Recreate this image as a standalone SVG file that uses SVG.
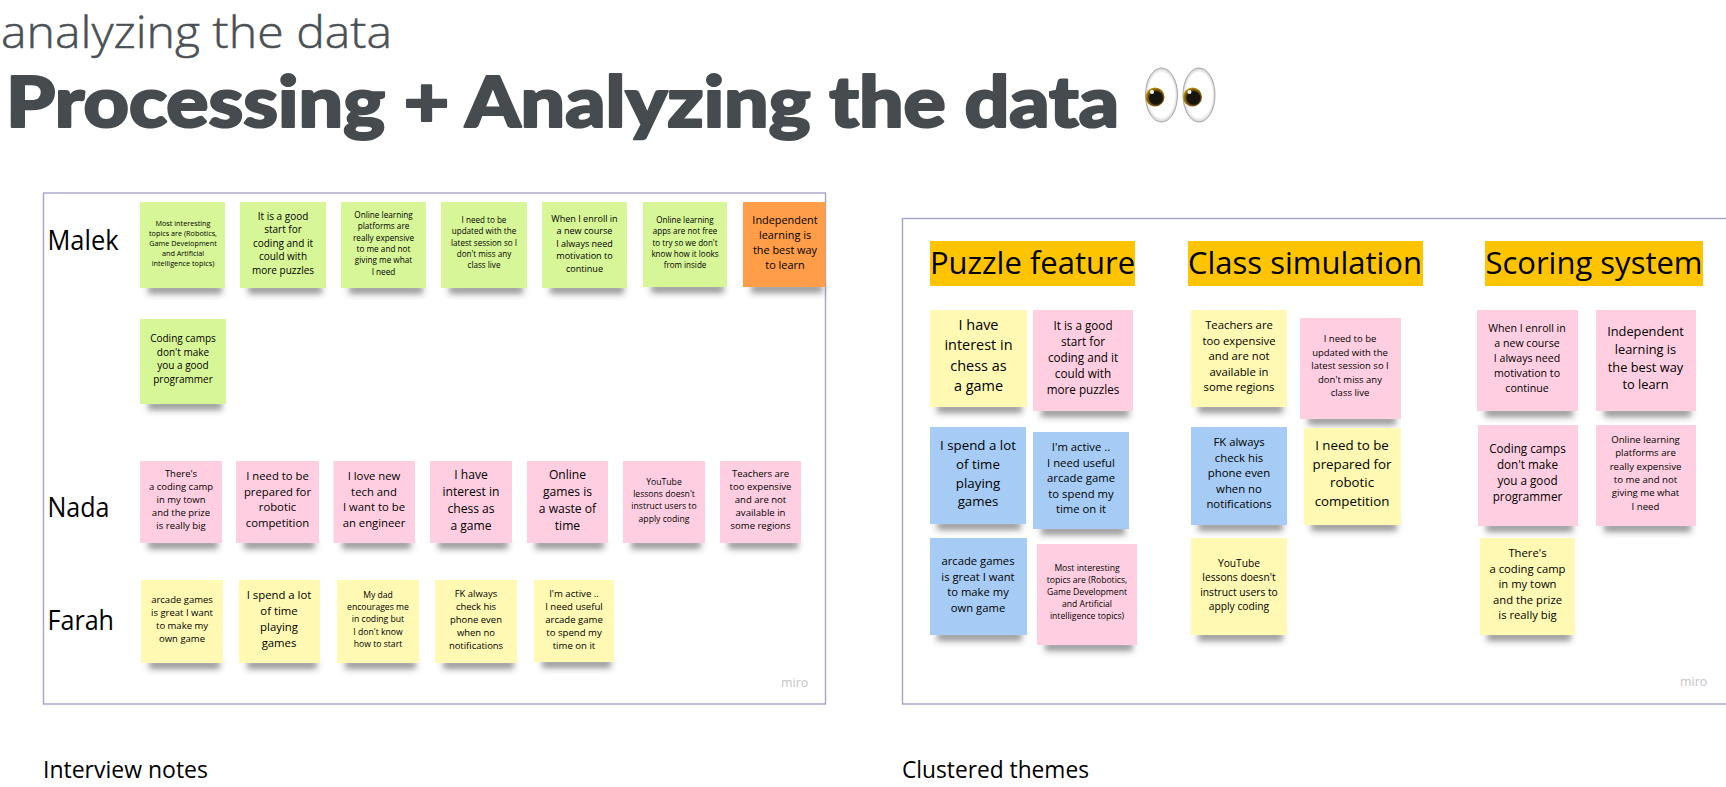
<svg xmlns="http://www.w3.org/2000/svg" width="1726" height="787" viewBox="0 0 1726 787">
<style>
text{font-family:"Open Sans","Liberation Sans",sans-serif;fill:#000}
.n text,text.n{text-anchor:middle}
.g{fill:#d7f697}.o{fill:#ff9d48}.p{fill:#ffcfe1}.y{fill:#fff9b3}.b{fill:#a6ccf5}
.sh{fill:#333;fill-opacity:.52;filter:url(#blur)}
.frame{fill:#fff;stroke:#a3a3c9;stroke-width:1.4}
.hd{fill:#ffc400}
.ht{font-size:31px}
.name{font-size:28px}
.cap{font-size:23px}
.miro{font-size:12.5px;fill:#c4c4c4!important}
.t1{font-size:45px;font-weight:300;fill:#4a5054!important;stroke:#4a5054;stroke-width:.5}
.t2{font-family:"Lato","Noto Sans",sans-serif!important;font-size:71px;font-weight:900;fill:#454b4e!important;stroke:#454b4e;stroke-width:2.2;stroke-linejoin:round}
</style>
<defs>
<filter id="blur" x="-20%" y="-150%" width="140%" height="400%"><feGaussianBlur stdDeviation="3.2"/></filter>
<radialGradient id="eye" cx=".5" cy=".5" r=".55"><stop offset=".75" stop-color="#fff"/><stop offset="1" stop-color="#b5b5b5"/></radialGradient>
<radialGradient id="iris" cx=".55" cy=".55" r=".55"><stop offset=".6" stop-color="#181410"/><stop offset=".72" stop-color="#6b4a08"/><stop offset="1" stop-color="#c2960f"/></radialGradient>
</defs>
<rect width="1726" height="787" fill="#fff"/>

<g id="titles">
<text class="t1" x="1" y="48" textLength="391" lengthAdjust="spacingAndGlyphs">analyzing the data</text>
<text class="t2" x="6" y="127" textLength="1113" lengthAdjust="spacingAndGlyphs">Processing + Analyzing the data</text>
</g>
<g id="eyes-emoji">
<ellipse cx="1161.5" cy="95" rx="16" ry="27" fill="url(#eye)" stroke="#a8a8a8"/>
<ellipse cx="1199" cy="95" rx="16" ry="27" fill="url(#eye)" stroke="#a8a8a8"/>
<circle cx="1155" cy="97" r="9.5" fill="url(#iris)"/><circle cx="1192.5" cy="97" r="9.5" fill="url(#iris)"/>
<circle cx="1152" cy="92" r="2" fill="#fff"/><circle cx="1189.5" cy="92" r="2" fill="#fff"/>
</g>

<g id="frame-interview"><rect class="frame" x="43.5" y="193" width="782" height="511"/><text class="miro" x="781" y="687">miro</text></g>
<g id="frame-clusters"><rect class="frame" x="902.5" y="218.5" width="830" height="485.5"/><text class="miro" x="1680" y="686">miro</text></g>

<g id="person-labels">
<text class="name" x="47.5" y="249.5" textLength="71" lengthAdjust="spacingAndGlyphs">Malek</text>
<text class="name" x="47.5" y="517" textLength="62" lengthAdjust="spacingAndGlyphs">Nada</text>
<text class="name" x="47.5" y="629.5" textLength="66.5" lengthAdjust="spacingAndGlyphs">Farah</text>
</g>

<g id="connectors"></g>

<g class="n" id="m1"><rect class="sh" x="148" y="285" width="74" height="9"/><rect class="g" x="140" y="202" width="85" height="86"/><text x="183" y="226" font-size="7.25"><tspan x="183">Most interesting</tspan><tspan x="183" dy="10">topics are (Robotics,</tspan><tspan x="183" dy="10">Game Development</tspan><tspan x="183" dy="10">and Artificial</tspan><tspan x="183" dy="10">intelligence topics)</tspan></text></g>
<g class="n" id="m2"><rect class="sh" x="248" y="285" width="74" height="9"/><rect class="g" x="240" y="202" width="86" height="86"/><text x="283" y="219.5" font-size="10"><tspan x="283">It is a good</tspan><tspan x="283" dy="13.6">start for</tspan><tspan x="283" dy="13.6">coding and it</tspan><tspan x="283" dy="13.6">could with</tspan><tspan x="283" dy="13.6">more puzzles</tspan></text></g>
<g class="n" id="m3"><rect class="sh" x="349" y="285" width="74" height="9"/><rect class="g" x="341" y="202" width="85" height="86"/><text x="383.5" y="218" font-size="8.2"><tspan x="383.5">Online learning</tspan><tspan x="383.5" dy="11.3">platforms are</tspan><tspan x="383.5" dy="11.3">really expensive</tspan><tspan x="383.5" dy="11.3">to me and not</tspan><tspan x="383.5" dy="11.3">giving me what</tspan><tspan x="383.5" dy="11.3">I need</tspan></text></g>
<g class="n" id="m4"><rect class="sh" x="449" y="285" width="74" height="9"/><rect class="g" x="441" y="202" width="86" height="86"/><text x="484" y="223" font-size="8.1"><tspan x="484">I need to be</tspan><tspan x="484" dy="11.3">updated with the</tspan><tspan x="484" dy="11.3">latest session so I</tspan><tspan x="484" dy="11.3">don't miss any</tspan><tspan x="484" dy="11.3">class live</tspan></text></g>
<g class="n" id="m5"><rect class="sh" x="550" y="285" width="74" height="9"/><rect class="g" x="542" y="202" width="85" height="86"/><text x="584.5" y="221.5" font-size="9.05"><tspan x="584.5">When I enroll in</tspan><tspan x="584.5" dy="12.6">a new course</tspan><tspan x="584.5" dy="12.6">I always need</tspan><tspan x="584.5" dy="12.6">motivation to</tspan><tspan x="584.5" dy="12.6">continue</tspan></text></g>
<g class="n" id="m6"><rect class="sh" x="651" y="284" width="73" height="9"/><rect class="g" x="643" y="202" width="84" height="85"/><text x="685" y="223" font-size="8.05"><tspan x="685">Online learning</tspan><tspan x="685" dy="11.3">apps are not free</tspan><tspan x="685" dy="11.3">to try so we don't</tspan><tspan x="685" dy="11.3">know how it looks</tspan><tspan x="685" dy="11.3">from inside</tspan></text></g>
<g class="n" id="m7"><rect class="sh" x="751" y="284" width="72" height="9"/><rect class="o" x="743" y="202" width="82.5" height="85"/><text x="785" y="224" font-size="10.9"><tspan x="785">Independent</tspan><tspan x="785" dy="15">learning is</tspan><tspan x="785" dy="15">the best way</tspan><tspan x="785" dy="15">to learn</tspan></text></g>
<g class="n" id="m8"><rect class="sh" x="148" y="401" width="74" height="9"/><rect class="g" x="140" y="319" width="86" height="85"/><text x="183" y="342" font-size="10"><tspan x="183">Coding camps</tspan><tspan x="183" dy="13.7">don't make</tspan><tspan x="183" dy="13.7">you a good</tspan><tspan x="183" dy="13.7">programmer</tspan></text></g>

<g class="n" id="n1"><rect class="sh" x="148" y="540" width="70" height="9"/><rect class="p" x="140" y="461" width="82" height="82"/><text x="181" y="477" font-size="9.5"><tspan x="181">There's</tspan><tspan x="181" dy="13">a coding camp</tspan><tspan x="181" dy="13">in my town</tspan><tspan x="181" dy="13">and the prize</tspan><tspan x="181" dy="13">is really big</tspan></text></g>
<g class="n" id="n2"><rect class="sh" x="244" y="540" width="71" height="9"/><rect class="p" x="236" y="461" width="83" height="82"/><text x="277.5" y="480" font-size="11.3"><tspan x="277.5">I need to be</tspan><tspan x="277.5" dy="15.7">prepared for</tspan><tspan x="277.5" dy="15.7">robotic</tspan><tspan x="277.5" dy="15.7">competition</tspan></text></g>
<g class="n" id="n3"><rect class="sh" x="342" y="540" width="69" height="9"/><rect class="p" x="333.5" y="461" width="81.5" height="82"/><text x="374" y="480" font-size="11.3"><tspan x="374">I love new</tspan><tspan x="374" dy="15.7">tech and</tspan><tspan x="374" dy="15.7">I want to be</tspan><tspan x="374" dy="15.7">an engineer</tspan></text></g>
<g class="n" id="n4"><rect class="sh" x="438" y="540" width="70" height="9"/><rect class="p" x="430" y="461" width="82" height="82"/><text x="471" y="478.5" font-size="12.1"><tspan x="471">I have</tspan><tspan x="471" dy="17.2">interest in</tspan><tspan x="471" dy="17.2">chess as</tspan><tspan x="471" dy="17.2">a game</tspan></text></g>
<g class="n" id="n5"><rect class="sh" x="535" y="540" width="69" height="9"/><rect class="p" x="527" y="461" width="81" height="82"/><text x="567.5" y="478.5" font-size="12.1"><tspan x="567.5">Online</tspan><tspan x="567.5" dy="17.2">games is</tspan><tspan x="567.5" dy="17.2">a waste of</tspan><tspan x="567.5" dy="17.2">time</tspan></text></g>
<g class="n" id="n6"><rect class="sh" x="631" y="540" width="70" height="9"/><rect class="p" x="623" y="461" width="82" height="82"/><text x="664" y="485" font-size="8.65"><tspan x="664">YouTube</tspan><tspan x="664" dy="12.2">lessons doesn't</tspan><tspan x="664" dy="12.2">instruct users to</tspan><tspan x="664" dy="12.2">apply coding</tspan></text></g>
<g class="n" id="n7"><rect class="sh" x="728" y="540" width="70" height="9"/><rect class="p" x="720" y="461" width="81" height="82"/><text x="760.5" y="477" font-size="9.55"><tspan x="760.5">Teachers are</tspan><tspan x="760.5" dy="13">too expensive</tspan><tspan x="760.5" dy="13">and are not</tspan><tspan x="760.5" dy="13">available in</tspan><tspan x="760.5" dy="13">some regions</tspan></text></g>

<g class="n" id="f1"><rect class="sh" x="149" y="660" width="71" height="9"/><rect class="y" x="141" y="580" width="82" height="83"/><text x="182" y="602.5" font-size="9.5"><tspan x="182">arcade games</tspan><tspan x="182" dy="13.2">is great I want</tspan><tspan x="182" dy="13.2">to make my</tspan><tspan x="182" dy="13.2">own game</tspan></text></g>
<g class="n" id="f2"><rect class="sh" x="247" y="660" width="70" height="9"/><rect class="y" x="239" y="580" width="81" height="83"/><text x="279" y="599" font-size="11.35"><tspan x="279">I spend a lot</tspan><tspan x="279" dy="16">of time</tspan><tspan x="279" dy="16">playing</tspan><tspan x="279" dy="16">games</tspan></text></g>
<g class="n" id="f3"><rect class="sh" x="345" y="660" width="71" height="9"/><rect class="y" x="337" y="580" width="82" height="83"/><text x="378" y="598" font-size="8.65"><tspan x="378">My dad</tspan><tspan x="378" dy="12.2">encourages me</tspan><tspan x="378" dy="12.2">in coding but</tspan><tspan x="378" dy="12.2">I don't know</tspan><tspan x="378" dy="12.2">how to start</tspan></text></g>
<g class="n" id="f4"><rect class="sh" x="443" y="660" width="71" height="9"/><rect class="y" x="435" y="580" width="82" height="83"/><text x="476" y="596.5" font-size="9.45"><tspan x="476">FK always</tspan><tspan x="476" dy="13">check his</tspan><tspan x="476" dy="13">phone even</tspan><tspan x="476" dy="13">when no</tspan><tspan x="476" dy="13">notifications</tspan></text></g>
<g class="n" id="f5"><rect class="sh" x="542" y="659" width="69" height="9"/><rect class="y" x="534" y="580" width="80" height="82"/><text x="574" y="596.5" font-size="9.6"><tspan x="574">I'm active ..</tspan><tspan x="574" dy="13">I need useful</tspan><tspan x="574" dy="13">arcade game</tspan><tspan x="574" dy="13">to spend my</tspan><tspan x="574" dy="13">time on it</tspan></text></g>

<g class="n" id="h1"><rect class="hd" x="930" y="241" width="205" height="45"/><text class="ht" x="1032.5" y="274">Puzzle feature</text></g>
<g class="n" id="h2"><rect class="hd" x="1188" y="241" width="235" height="45"/><text class="ht" x="1305" y="274">Class simulation</text></g>
<g class="n" id="h3"><rect class="hd" x="1485" y="241" width="218" height="45"/><text class="ht" x="1594" y="274">Scoring system</text></g>

<g class="n" id="p1"><rect class="sh" x="937" y="404" width="85" height="9"/><rect class="y" x="930" y="310" width="97" height="97"/><text x="978.5" y="330" font-size="14.45"><tspan x="978.5">I have</tspan><tspan x="978.5" dy="20.3">interest in</tspan><tspan x="978.5" dy="20.3">chess as</tspan><tspan x="978.5" dy="20.3">a game</tspan></text></g>
<g class="n" id="p2"><rect class="sh" x="1041" y="408" width="88" height="9"/><rect class="p" x="1033" y="310" width="100" height="101"/><text x="1083" y="330" font-size="11.7"><tspan x="1083">It is a good</tspan><tspan x="1083" dy="16.1">start for</tspan><tspan x="1083" dy="16.1">coding and it</tspan><tspan x="1083" dy="16.1">could with</tspan><tspan x="1083" dy="16.1">more puzzles</tspan></text></g>
<g class="n" id="p3"><rect class="sh" x="937" y="521" width="84" height="9"/><rect class="b" x="930" y="427" width="96" height="97"/><text x="978" y="450" font-size="13.3"><tspan x="978">I spend a lot</tspan><tspan x="978" dy="18.8">of time</tspan><tspan x="978" dy="18.8">playing</tspan><tspan x="978" dy="18.8">games</tspan></text></g>
<g class="n" id="p4"><rect class="sh" x="1041" y="526" width="84" height="9"/><rect class="b" x="1033" y="432" width="96" height="97"/><text x="1081" y="451" font-size="11.3"><tspan x="1081">I'm active ..</tspan><tspan x="1081" dy="15.6">I need useful</tspan><tspan x="1081" dy="15.6">arcade game</tspan><tspan x="1081" dy="15.6">to spend my</tspan><tspan x="1081" dy="15.6">time on it</tspan></text></g>
<g class="n" id="p5"><rect class="sh" x="937" y="632" width="85" height="9"/><rect class="b" x="930" y="538" width="97" height="97"/><text x="978" y="565" font-size="11.25"><tspan x="978">arcade games</tspan><tspan x="978" dy="15.5">is great I want</tspan><tspan x="978" dy="15.5">to make my</tspan><tspan x="978" dy="15.5">own game</tspan></text></g>
<g class="n" id="p6"><rect class="sh" x="1045" y="642" width="88" height="9"/><rect class="p" x="1037" y="544" width="100" height="101"/><text x="1087" y="571" font-size="8.6"><tspan x="1087">Most interesting</tspan><tspan x="1087" dy="11.9">topics are (Robotics,</tspan><tspan x="1087" dy="11.9">Game Development</tspan><tspan x="1087" dy="11.9">and Artificial</tspan><tspan x="1087" dy="11.9">intelligence topics)</tspan></text></g>

<g class="n" id="c1"><rect class="sh" x="1198" y="404" width="85" height="9"/><rect class="y" x="1191" y="310" width="96" height="97"/><text x="1239" y="329" font-size="11.3"><tspan x="1239">Teachers are</tspan><tspan x="1239" dy="15.5">too expensive</tspan><tspan x="1239" dy="15.5">and are not</tspan><tspan x="1239" dy="15.5">available in</tspan><tspan x="1239" dy="15.5">some regions</tspan></text></g>
<g class="n" id="c2"><rect class="sh" x="1308" y="416" width="88" height="9"/><rect class="p" x="1300" y="318" width="101" height="101"/><text x="1350" y="342" font-size="9.5"><tspan x="1350">I need to be</tspan><tspan x="1350" dy="13.5">updated with the</tspan><tspan x="1350" dy="13.5">latest session so I</tspan><tspan x="1350" dy="13.5">don't miss any</tspan><tspan x="1350" dy="13.5">class live</tspan></text></g>
<g class="n" id="c3"><rect class="sh" x="1198" y="522" width="85" height="9"/><rect class="b" x="1191" y="427" width="96" height="98"/><text x="1239" y="446" font-size="11.35"><tspan x="1239">FK always</tspan><tspan x="1239" dy="15.5">check his</tspan><tspan x="1239" dy="15.5">phone even</tspan><tspan x="1239" dy="15.5">when no</tspan><tspan x="1239" dy="15.5">notifications</tspan></text></g>
<g class="n" id="c4"><rect class="sh" x="1311" y="522" width="86" height="9"/><rect class="y" x="1304" y="428" width="97" height="97"/><text x="1352" y="450" font-size="13.3"><tspan x="1352">I need to be</tspan><tspan x="1352" dy="18.7">prepared for</tspan><tspan x="1352" dy="18.7">robotic</tspan><tspan x="1352" dy="18.7">competition</tspan></text></g>
<g class="n" id="c5"><rect class="sh" x="1198" y="632" width="85" height="9"/><rect class="y" x="1191" y="538" width="96" height="97"/><text x="1239" y="566.5" font-size="10.25"><tspan x="1239">YouTube</tspan><tspan x="1239" dy="14.5">lessons doesn't</tspan><tspan x="1239" dy="14.5">instruct users to</tspan><tspan x="1239" dy="14.5">apply coding</tspan></text></g>

<g class="n" id="s1"><rect class="sh" x="1485" y="408" width="88" height="9"/><rect class="p" x="1477" y="310" width="101" height="101"/><text x="1527" y="332" font-size="10.6"><tspan x="1527">When I enroll in</tspan><tspan x="1527" dy="15">a new course</tspan><tspan x="1527" dy="15">I always need</tspan><tspan x="1527" dy="15">motivation to</tspan><tspan x="1527" dy="15">continue</tspan></text></g>
<g class="n" id="s2"><rect class="sh" x="1604" y="408" width="87" height="9"/><rect class="p" x="1596" y="310" width="100" height="101"/><text x="1645.5" y="336" font-size="12.8"><tspan x="1645.5">Independent</tspan><tspan x="1645.5" dy="17.8">learning is</tspan><tspan x="1645.5" dy="17.8">the best way</tspan><tspan x="1645.5" dy="17.8">to learn</tspan></text></g>
<g class="n" id="s3"><rect class="sh" x="1486" y="523" width="87" height="9"/><rect class="p" x="1478" y="425" width="100" height="101"/><text x="1527.5" y="453" font-size="11.7"><tspan x="1527.5">Coding camps</tspan><tspan x="1527.5" dy="16">don't make</tspan><tspan x="1527.5" dy="16">you a good</tspan><tspan x="1527.5" dy="16">programmer</tspan></text></g>
<g class="n" id="s4"><rect class="sh" x="1604" y="523" width="87" height="9"/><rect class="p" x="1596" y="425" width="100" height="101"/><text x="1645.5" y="443" font-size="9.65"><tspan x="1645.5">Online learning</tspan><tspan x="1645.5" dy="13.3">platforms are</tspan><tspan x="1645.5" dy="13.3">really expensive</tspan><tspan x="1645.5" dy="13.3">to me and not</tspan><tspan x="1645.5" dy="13.3">giving me what</tspan><tspan x="1645.5" dy="13.3">I need</tspan></text></g>
<g class="n" id="s5"><rect class="sh" x="1487" y="632" width="84" height="9"/><rect class="y" x="1480" y="538" width="95" height="97"/><text x="1527.5" y="557" font-size="11.25"><tspan x="1527.5">There's</tspan><tspan x="1527.5" dy="15.5">a coding camp</tspan><tspan x="1527.5" dy="15.5">in my town</tspan><tspan x="1527.5" dy="15.5">and the prize</tspan><tspan x="1527.5" dy="15.5">is really big</tspan></text></g>

<g id="captions">
<text class="cap" x="43" y="778" textLength="165" lengthAdjust="spacingAndGlyphs">Interview notes</text>
<text class="cap" x="902" y="778" textLength="187" lengthAdjust="spacingAndGlyphs">Clustered themes</text>
</g>
</svg>
